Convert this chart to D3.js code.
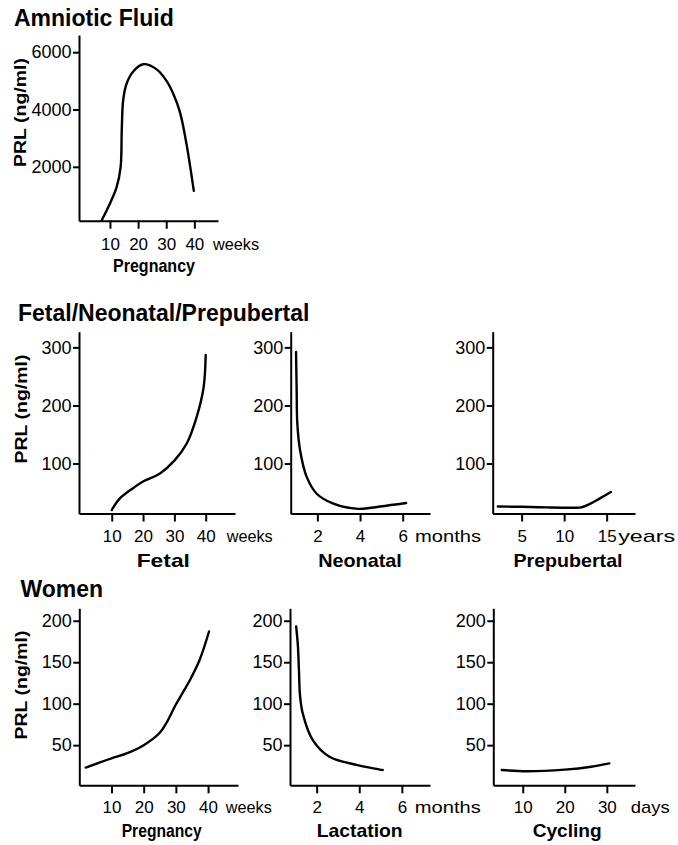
<!DOCTYPE html>
<html>
<head>
<meta charset="utf-8">
<script src="https://cdn.jsdelivr.net/npm/d3@7"></script>
<style>
  body { margin:0; background:#fff; }
  text { font-family:"Liberation Sans", Arial, Helvetica, sans-serif; fill:#000; }
</style>
</head>
<body>
<div id="chart"></div>
<script>
// ---- data ----
var amnioticWeeks = [7, 10, 12.4, 13.8, 14.2, 14.7, 15.9, 18.2, 21.8, 26.6, 30.1, 32.5, 34.9, 37.2, 39.8];
var amnioticPRL   = [120, 720, 1300, 2000, 3300, 4330, 4900, 5320, 5580, 5400, 5000, 4550, 3900, 2800, 1160];

var fetalWeeks = [10, 12.6, 16.9, 20, 25.4, 30, 33.9, 37.1, 39.3, 40];
var fetalPRL   = [20, 40, 58, 69, 83, 105, 134, 180, 230, 287];

var neonatalMonths = [1.0, 1.03, 1.06, 1.19, 1.5, 1.97, 2.75, 3.92, 4.94, 6.16];
var neonatalPRL    = [292, 226, 169, 123, 77, 48, 31, 22, 26, 32];

var prepubYears = [2.2, 5, 8, 11, 12, 13.1, 14.2, 15.5];
var prepubPRL   = [26, 25.5, 24.5, 24, 24.5, 31, 40, 51];

var pregWeeks = [2, 10, 14.7, 20, 25, 27.1, 30, 34.3, 37.4, 40.3];
var pregPRL   = [23, 34, 40, 50, 65, 77, 99, 128, 153, 187];

var lactMonths = [1.04, 1.12, 1.17, 1.22, 1.35, 1.82, 2.6, 3.92, 5.1];
var lactPRL    = [193, 170, 140, 110, 88, 56, 36, 26, 20];

var cycleDays = [5, 11, 20, 26.3, 30.6];
var cyclePRL  = [20, 18.5, 20.5, 24, 28];

// tick labels
var weekTicks   = [10, 20, 30, 40];
var monthTicks  = [2, 4, 6];
var yearTicks   = [5, 10, 15];
var dayTicks    = [10, 20, 30];
var amnioticYTicks = [2000, 4000, 6000];
var childYTicks    = [100, 200, 300];
var womenYTicks    = [50, 100, 150, 200];

var sectionTitles = ["Amniotic Fluid", "Fetal/Neonatal/Prepubertal", "Women"];
var yLabel = "PRL (ng/ml)";

// ---- layout ----
var W = 678, H = 845;
var svg = d3.select("#chart").append("svg").attr("width", W).attr("height", H);

var rows = [
    {top:35,    bottom:220.7, title:{x:14, y:26},    label:{x:26, cy:112.5}, tickBase:29,   axisTitle:271.5},
    {top:331.7, bottom:513.5, title:{x:18, y:321},   label:{x:27, cy:409},   tickBase:28.5, axisTitle:566.7},
    {top:608.3, bottom:785.3, title:{x:20.5, y:597}, label:{x:27, cy:685},   tickBase:27.5, axisTitle:837}
];

var panels = [
    {row:0, left:79,    right:218,  xDom:[-1, 48.4],   yDom:[120, 6600], xs:amnioticWeeks, ys:amnioticPRL, xTicks:weekTicks, yTicks:amnioticYTicks,
     unit:"weeks", unitDx:18.7, unitW:46, name:"Pregnancy", nameX:154, nameW:82, yLab:true},
    {row:1, left:79,    right:235,  xDom:[-0.45, 49.35], yDom:[14, 327], xs:fetalWeeks, ys:fetalPRL, xTicks:weekTicks, yTicks:childYTicks,
     unit:"weeks", unitDx:21, unitW:46, name:"Fetal", nameX:163.3, nameW:53.3, yLab:true},
    {row:1, left:290.7, right:430,  xDom:[0.75, 7.28], yDom:[14, 327], xs:neonatalMonths, ys:neonatalPRL, xTicks:monthTicks, yTicks:childYTicks,
     unit:"months", unitDx:12.3, unitW:66, name:"Neonatal", nameX:360, nameW:83.7},
    {row:1, left:492.7, right:635,  xDom:[1.6, 18.33], yDom:[14, 327], xs:prepubYears, ys:prepubPRL, xTicks:yearTicks, yTicks:childYTicks,
     unit:"years", unitDx:11.5, unitW:57, name:"Prepubertal", nameX:568, nameW:109},
    {row:2, left:79.3,  right:238,  xDom:[0, 49.3], yDom:[1.6, 215], xs:pregWeeks, ys:pregPRL, xTicks:weekTicks, yTicks:womenYTicks,
     unit:"weeks", unitDx:17.7, unitW:46, name:"Pregnancy", nameX:161.7, nameW:80, yLab:true},
    {row:2, left:290,   right:430,  xDom:[0.75, 7.32], yDom:[1.6, 215], xs:lactMonths, ys:lactPRL, xTicks:monthTicks, yTicks:womenYTicks,
     unit:"months", unitDx:13, unitW:66, name:"Lactation", nameX:359.7, nameW:86},
    {row:2, left:493.3, right:635,  xDom:[3, 36.7], yDom:[1.6, 215], xs:cycleDays, ys:cyclePRL, xTicks:dayTicks, yTicks:womenYTicks,
     unit:"days", unitDx:24, unitW:39, name:"Cycling", nameX:567.2, nameW:69}
];

// section titles
rows.forEach(function(r, i){
    svg.append("text")
        .attr("x", r.title.x).attr("y", r.title.y)
        .style("font-size", "23px").style("font-weight", "bold")
        .text(sectionTitles[i]);
});

var line = d3.line().curve(d3.curveCatmullRom.alpha(0.5));
var fmt = d3.format("d");

panels.forEach(function(p){
    var r = rows[p.row];
    var x = d3.scaleLinear().domain(p.xDom).range([p.left, p.right]);
    var y = d3.scaleLinear().domain(p.yDom).range([r.bottom, r.top]);
    var g = svg.append("g");

    // x axis
    var gx = g.append("g").attr("transform", "translate(0," + r.bottom + ")")
        .call(d3.axisBottom(x).tickValues(p.xTicks).tickFormat(fmt)
            .tickSize(8).tickSizeOuter(0).tickPadding(r.tickBase - 8 - 12.1));
    gx.selectAll("text").style("font-size", "17px");

    // y axis
    var gy = g.append("g").attr("transform", "translate(" + p.left + ",0)")
        .call(d3.axisLeft(y).tickValues(p.yTicks).tickFormat(fmt)
            .tickSize(6).tickSizeOuter(0).tickPadding(1.5));
    gy.selectAll("text").style("font-size", "18px");

    g.selectAll(".domain, .tick line").attr("stroke", "#000").attr("stroke-width", 2);
    g.selectAll(".tick text").attr("fill", "#000").style("font-family", '"Liberation Sans", Arial, sans-serif');

    // unit label after last tick
    g.append("text")
        .attr("x", x(p.xTicks[p.xTicks.length - 1]) + p.unitDx)
        .attr("y", r.bottom + r.tickBase)
        .attr("textLength", p.unitW).attr("lengthAdjust", "spacingAndGlyphs")
        .style("font-size", "17px")
        .text(p.unit);

    // axis title
    g.append("text")
        .attr("x", p.nameX - p.nameW / 2)
        .attr("y", r.axisTitle)
        .attr("textLength", p.nameW).attr("lengthAdjust", "spacingAndGlyphs")
        .style("font-size", "19px").style("font-weight", "bold")
        .text(p.name);

    if (p.yLab) {
        g.append("text")
            .attr("transform", "translate(" + r.label.x + "," + r.label.cy + ") rotate(-90)")
            .attr("x", -54.5)
            .attr("textLength", 109).attr("lengthAdjust", "spacingAndGlyphs")
            .style("font-size", "17px").style("font-weight", "bold")
            .text(yLabel);
    }

    // curve
    var pts = p.xs.map(function(v, i){ return [x(v), y(p.ys[i])]; });
    g.append("path")
        .attr("d", line(pts))
        .attr("fill", "none")
        .attr("stroke", "#000")
        .attr("stroke-width", 2.4)
        .attr("stroke-linecap", "round");
});
</script>
</body>
</html>
